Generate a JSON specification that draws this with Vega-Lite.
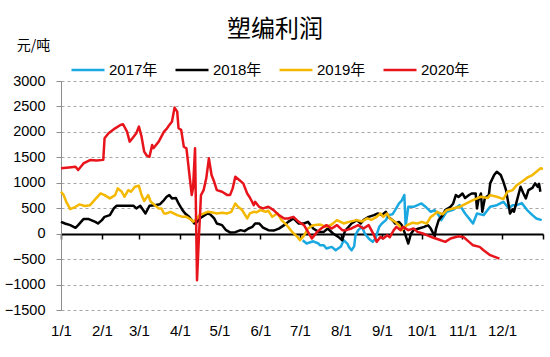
{
  "$schema": "https://vega.github.io/schema/vega-lite/v6.json",
  "width": 482,
  "height": 229,
  "autosize": {"type": "none"},
  "padding": {"left": 61, "top": 81, "right": 7, "bottom": 47},
  "background": "white",
  "title": {"text": "塑编利润", "fontSize": 24, "font": "Noto Sans CJK SC", "fontWeight": "normal", "color": "#000", "anchor": "middle", "dx": -27, "offset": -4},
  "data": {"values": [
    {"year":"2017年","day":183,"value":-128},{"year":"2017年","day":186,"value":-193},{"year":"2017年","day":191,"value":-150},{"year":"2017年","day":195,"value":-193},{"year":"2017年","day":196,"value":-226},{"year":"2017年","day":199,"value":-226},{"year":"2017年","day":201,"value":-292},{"year":"2017年","day":205,"value":-260},{"year":"2017年","day":208,"value":-325},{"year":"2017年","day":212,"value":-250},{"year":"2017年","day":214,"value":-128},{"year":"2017年","day":217,"value":-200},{"year":"2017年","day":218,"value":-260},{"year":"2017年","day":220,"value":-325},{"year":"2017年","day":222,"value":-250},{"year":"2017年","day":223,"value":-30},{"year":"2017年","day":225,"value":69},{"year":"2017年","day":228,"value":134},{"year":"2017年","day":230,"value":3},{"year":"2017年","day":233,"value":-95},{"year":"2017年","day":236,"value":-161},{"year":"2017年","day":238,"value":-100},{"year":"2017年","day":241,"value":134},{"year":"2017年","day":243,"value":200},{"year":"2017年","day":246,"value":266},{"year":"2017年","day":248,"value":364},{"year":"2017年","day":251,"value":380},{"year":"2017年","day":253,"value":463},{"year":"2017年","day":256,"value":594},{"year":"2017年","day":258,"value":650},{"year":"2017年","day":260,"value":760},{"year":"2017年","day":261,"value":150},{"year":"2017年","day":263,"value":528},{"year":"2017年","day":267,"value":528},{"year":"2017年","day":270,"value":560},{"year":"2017年","day":273,"value":594},{"year":"2017年","day":276,"value":530},{"year":"2017年","day":280,"value":430},{"year":"2017年","day":283,"value":460},{"year":"2017年","day":286,"value":364},{"year":"2017年","day":288,"value":266},{"year":"2017年","day":292,"value":430},{"year":"2017年","day":297,"value":470},{"year":"2017年","day":302,"value":561},{"year":"2017年","day":306,"value":397},{"year":"2017年","day":310,"value":266},{"year":"2017年","day":312,"value":200},{"year":"2017年","day":315,"value":397},{"year":"2017年","day":320,"value":364},{"year":"2017年","day":325,"value":528},{"year":"2017年","day":330,"value":560},{"year":"2017年","day":335,"value":626},{"year":"2017年","day":339,"value":500},{"year":"2017年","day":342,"value":560},{"year":"2017年","day":345,"value":560},{"year":"2017年","day":349,"value":600},{"year":"2017年","day":353,"value":463},{"year":"2017年","day":357,"value":364},{"year":"2017年","day":360,"value":299},{"year":"2017年","day":364,"value":266},

    {"year":"2018年","day":0,"value":232},{"year":"2018年","day":3,"value":200},{"year":"2018年","day":7,"value":167},{"year":"2018年","day":11,"value":115},{"year":"2018年","day":13,"value":167},{"year":"2018年","day":17,"value":286},{"year":"2018年","day":21,"value":286},{"year":"2018年","day":26,"value":232},{"year":"2018年","day":28,"value":200},{"year":"2018年","day":31,"value":266},{"year":"2018年","day":33,"value":331},{"year":"2018年","day":37,"value":364},{"year":"2018年","day":40,"value":496},{"year":"2018年","day":42,"value":548},{"year":"2018年","day":46,"value":548},{"year":"2018年","day":51,"value":548},{"year":"2018年","day":55,"value":548},{"year":"2018年","day":57,"value":496},{"year":"2018年","day":60,"value":548},{"year":"2018年","day":64,"value":397},{"year":"2018年","day":67,"value":548},{"year":"2018年","day":71,"value":560},{"year":"2018年","day":75,"value":580},{"year":"2018年","day":78,"value":660},{"year":"2018年","day":80,"value":725},{"year":"2018年","day":82,"value":758},{"year":"2018年","day":84,"value":693},{"year":"2018年","day":87,"value":700},{"year":"2018年","day":89,"value":594},{"year":"2018年","day":92,"value":463},{"year":"2018年","day":94,"value":397},{"year":"2018年","day":97,"value":331},{"year":"2018年","day":99,"value":266},{"year":"2018年","day":101,"value":200},{"year":"2018年","day":103,"value":230},{"year":"2018年","day":105,"value":299},{"year":"2018年","day":108,"value":350},{"year":"2018年","day":111,"value":397},{"year":"2018年","day":113,"value":380},{"year":"2018年","day":116,"value":299},{"year":"2018年","day":118,"value":200},{"year":"2018年","day":122,"value":167},{"year":"2018年","day":125,"value":69},{"year":"2018年","day":128,"value":24},{"year":"2018年","day":132,"value":30},{"year":"2018年","day":136,"value":69},{"year":"2018年","day":139,"value":50},{"year":"2018年","day":142,"value":102},{"year":"2018年","day":145,"value":134},{"year":"2018年","day":147,"value":200},{"year":"2018年","day":150,"value":200},{"year":"2018年","day":153,"value":120},{"year":"2018年","day":157,"value":69},{"year":"2018年","day":161,"value":60},{"year":"2018年","day":165,"value":100},{"year":"2018年","day":169,"value":167},{"year":"2018年","day":172,"value":232},{"year":"2018年","day":176,"value":299},{"year":"2018年","day":180,"value":200},{"year":"2018年","day":184,"value":200},{"year":"2018年","day":187,"value":232},{"year":"2018年","day":191,"value":102},{"year":"2018年","day":195,"value":35},{"year":"2018年","day":199,"value":35},{"year":"2018年","day":202,"value":102},{"year":"2018年","day":206,"value":3},{"year":"2018年","day":210,"value":-63},{"year":"2018年","day":213,"value":-128},{"year":"2018年","day":215,"value":50},{"year":"2018年","day":220,"value":200},{"year":"2018年","day":224,"value":266},{"year":"2018年","day":227,"value":200},{"year":"2018年","day":229,"value":266},{"year":"2018年","day":233,"value":331},{"year":"2018年","day":237,"value":364},{"year":"2018年","day":240,"value":397},{"year":"2018年","day":243,"value":364},{"year":"2018年","day":246,"value":430},{"year":"2018年","day":248,"value":330},{"year":"2018年","day":251,"value":266},{"year":"2018年","day":253,"value":200},{"year":"2018年","day":256,"value":230},{"year":"2018年","day":258,"value":167},{"year":"2018年","day":260,"value":35},{"year":"2018年","day":263,"value":-193},{"year":"2018年","day":265,"value":0},{"year":"2018年","day":267,"value":69},{"year":"2018年","day":271,"value":102},{"year":"2018年","day":275,"value":134},{"year":"2018年","day":278,"value":167},{"year":"2018年","day":280,"value":100},{"year":"2018年","day":283,"value":-50},{"year":"2018年","day":284,"value":100},{"year":"2018年","day":286,"value":266},{"year":"2018年","day":289,"value":364},{"year":"2018年","day":291,"value":463},{"year":"2018年","day":295,"value":530},{"year":"2018年","day":297,"value":594},{"year":"2018年","day":299,"value":758},{"year":"2018年","day":301,"value":720},{"year":"2018年","day":304,"value":790},{"year":"2018年","day":306,"value":700},{"year":"2018年","day":309,"value":760},{"year":"2018年","day":311,"value":790},{"year":"2018年","day":314,"value":790},{"year":"2018年","day":315,"value":496},{"year":"2018年","day":316,"value":650},{"year":"2018年","day":318,"value":790},{"year":"2018年","day":319,"value":430},{"year":"2018年","day":321,"value":700},{"year":"2018年","day":324,"value":758},{"year":"2018年","day":325,"value":988},{"year":"2018年","day":328,"value":1152},{"year":"2018年","day":330,"value":1217},{"year":"2018年","day":333,"value":1152},{"year":"2018年","day":335,"value":1020},{"year":"2018年","day":337,"value":856},{"year":"2018年","day":339,"value":561},{"year":"2018年","day":340,"value":397},{"year":"2018年","day":342,"value":480},{"year":"2018年","day":343,"value":430},{"year":"2018年","day":345,"value":626},{"year":"2018年","day":348,"value":921},{"year":"2018年","day":350,"value":800},{"year":"2018年","day":352,"value":693},{"year":"2018年","day":354,"value":856},{"year":"2018年","day":357,"value":900},{"year":"2018年","day":359,"value":988},{"year":"2018年","day":361,"value":920},{"year":"2018年","day":362,"value":980},{"year":"2018年","day":363,"value":823},

    {"year":"2019年","day":0,"value":823},{"year":"2019年","day":2,"value":758},{"year":"2019年","day":4,"value":626},{"year":"2019年","day":7,"value":482},{"year":"2019年","day":11,"value":528},{"year":"2019年","day":14,"value":575},{"year":"2019年","day":18,"value":545},{"year":"2019年","day":22,"value":560},{"year":"2019年","day":26,"value":680},{"year":"2019年","day":30,"value":790},{"year":"2019年","day":33,"value":758},{"year":"2019年","day":37,"value":693},{"year":"2019年","day":41,"value":758},{"year":"2019年","day":43,"value":890},{"year":"2019年","day":46,"value":823},{"year":"2019年","day":48,"value":725},{"year":"2019年","day":51,"value":856},{"year":"2019年","day":53,"value":823},{"year":"2019年","day":56,"value":921},{"year":"2019年","day":59,"value":940},{"year":"2019年","day":61,"value":758},{"year":"2019年","day":63,"value":640},{"year":"2019年","day":66,"value":758},{"year":"2019年","day":68,"value":626},{"year":"2019年","day":71,"value":561},{"year":"2019年","day":74,"value":496},{"year":"2019年","day":76,"value":496},{"year":"2019年","day":78,"value":397},{"year":"2019年","day":80,"value":397},{"year":"2019年","day":83,"value":430},{"year":"2019年","day":88,"value":364},{"year":"2019年","day":92,"value":331},{"year":"2019年","day":95,"value":331},{"year":"2019年","day":99,"value":266},{"year":"2019年","day":100,"value":232},{"year":"2019年","day":103,"value":299},{"year":"2019年","day":105,"value":364},{"year":"2019年","day":111,"value":430},{"year":"2019年","day":114,"value":420},{"year":"2019年","day":118,"value":397},{"year":"2019年","day":122,"value":410},{"year":"2019年","day":126,"value":397},{"year":"2019年","day":129,"value":430},{"year":"2019年","day":132,"value":594},{"year":"2019年","day":134,"value":528},{"year":"2019年","day":137,"value":470},{"year":"2019年","day":141,"value":299},{"year":"2019年","day":143,"value":397},{"year":"2019年","day":146,"value":430},{"year":"2019年","day":148,"value":420},{"year":"2019年","day":151,"value":463},{"year":"2019年","day":155,"value":430},{"year":"2019年","day":157,"value":450},{"year":"2019年","day":160,"value":331},{"year":"2019年","day":164,"value":400},{"year":"2019年","day":167,"value":266},{"year":"2019年","day":171,"value":167},{"year":"2019年","day":175,"value":35},{"year":"2019年","day":179,"value":-63},{"year":"2019年","day":181,"value":-128},{"year":"2019年","day":184,"value":-40},{"year":"2019年","day":187,"value":102},{"year":"2019年","day":191,"value":167},{"year":"2019年","day":196,"value":180},{"year":"2019年","day":201,"value":134},{"year":"2019年","day":205,"value":180},{"year":"2019年","day":209,"value":266},{"year":"2019年","day":214,"value":200},{"year":"2019年","day":218,"value":232},{"year":"2019年","day":224,"value":266},{"year":"2019年","day":228,"value":240},{"year":"2019年","day":232,"value":299},{"year":"2019年","day":235,"value":270},{"year":"2019年","day":239,"value":331},{"year":"2019年","day":242,"value":397},{"year":"2019年","day":244,"value":331},{"year":"2019年","day":247,"value":397},{"year":"2019年","day":249,"value":299},{"year":"2019年","day":253,"value":232},{"year":"2019年","day":256,"value":167},{"year":"2019年","day":258,"value":69},{"year":"2019年","day":262,"value":167},{"year":"2019年","day":266,"value":213},{"year":"2019年","day":270,"value":200},{"year":"2019年","day":273,"value":232},{"year":"2019年","day":277,"value":200},{"year":"2019年","day":280,"value":331},{"year":"2019年","day":282,"value":364},{"year":"2019年","day":285,"value":430},{"year":"2019年","day":289,"value":380},{"year":"2019年","day":292,"value":463},{"year":"2019年","day":297,"value":496},{"year":"2019年","day":302,"value":528},{"year":"2019年","day":307,"value":594},{"year":"2019年","day":312,"value":660},{"year":"2019年","day":318,"value":725},{"year":"2019年","day":323,"value":700},{"year":"2019年","day":325,"value":758},{"year":"2019年","day":330,"value":725},{"year":"2019年","day":335,"value":680},{"year":"2019年","day":338,"value":823},{"year":"2019年","day":342,"value":856},{"year":"2019年","day":345,"value":950},{"year":"2019年","day":349,"value":1020},{"year":"2019年","day":353,"value":1100},{"year":"2019年","day":357,"value":1152},{"year":"2019年","day":360,"value":1217},{"year":"2019年","day":363,"value":1284},{"year":"2019年","day":365,"value":1270},

    {"year":"2020年","day":0,"value":1284},{"year":"2020年","day":6,"value":1300},{"year":"2020年","day":11,"value":1315},{"year":"2020年","day":13,"value":1250},{"year":"2020年","day":17,"value":1380},{"year":"2020年","day":22,"value":1447},{"year":"2020年","day":27,"value":1440},{"year":"2020年","day":32,"value":1450},{"year":"2020年","day":33,"value":1875},{"year":"2020年","day":36,"value":1972},{"year":"2020年","day":41,"value":2070},{"year":"2020年","day":45,"value":2136},{"year":"2020年","day":47,"value":2150},{"year":"2020年","day":50,"value":2005},{"year":"2020年","day":52,"value":1808},{"year":"2020年","day":55,"value":1906},{"year":"2020年","day":57,"value":1972},{"year":"2020年","day":59,"value":2103},{"year":"2020年","day":61,"value":1906},{"year":"2020年","day":63,"value":1611},{"year":"2020年","day":65,"value":1532},{"year":"2020年","day":67,"value":1510},{"year":"2020年","day":69,"value":1742},{"year":"2020年","day":70,"value":1680},{"year":"2020年","day":74,"value":1808},{"year":"2020年","day":78,"value":2005},{"year":"2020年","day":80,"value":2060},{"year":"2020年","day":82,"value":2136},{"year":"2020年","day":84,"value":2200},{"year":"2020年","day":86,"value":2477},{"year":"2020年","day":88,"value":2398},{"year":"2020年","day":89,"value":2071},{"year":"2020年","day":91,"value":2040},{"year":"2020年","day":93,"value":1709},{"year":"2020年","day":95,"value":1677},{"year":"2020年","day":97,"value":1217},{"year":"2020年","day":99,"value":758},{"year":"2020年","day":100,"value":890},{"year":"2020年","day":101.5,"value":1677},{"year":"2020年","day":103,"value":-915},{"year":"2020年","day":104.5,"value":-30},{"year":"2020年","day":106,"value":758},{"year":"2020年","day":108,"value":856},{"year":"2020年","day":110,"value":1087},{"year":"2020年","day":112,"value":1480},{"year":"2020年","day":114,"value":1152},{"year":"2020年","day":116,"value":1020},{"year":"2020年","day":118,"value":856},{"year":"2020年","day":122,"value":823},{"year":"2020年","day":126,"value":758},{"year":"2020年","day":128,"value":758},{"year":"2020年","day":130,"value":890},{"year":"2020年","day":132,"value":1118},{"year":"2020年","day":135,"value":1053},{"year":"2020年","day":138,"value":988},{"year":"2020年","day":141,"value":790},{"year":"2020年","day":143,"value":710},{"year":"2020年","day":146,"value":561},{"year":"2020年","day":147,"value":626},{"year":"2020年","day":150,"value":528},{"year":"2020年","day":153,"value":496},{"year":"2020年","day":157,"value":528},{"year":"2020年","day":161,"value":463},{"year":"2020年","day":165,"value":364},{"year":"2020年","day":169,"value":299},{"year":"2020年","day":172,"value":299},{"year":"2020年","day":176,"value":331},{"year":"2020年","day":180,"value":232},{"year":"2020年","day":184,"value":167},{"year":"2020年","day":187,"value":35},{"year":"2020年","day":190,"value":-95},{"year":"2020年","day":194,"value":35},{"year":"2020年","day":197,"value":102},{"year":"2020年","day":201,"value":167},{"year":"2020年","day":205,"value":102},{"year":"2020年","day":209,"value":167},{"year":"2020年","day":213,"value":69},{"year":"2020年","day":216,"value":69},{"year":"2020年","day":220,"value":102},{"year":"2020年","day":225,"value":167},{"year":"2020年","day":229,"value":102},{"year":"2020年","day":233,"value":167},{"year":"2020年","day":237,"value":-30},{"year":"2020年","day":239,"value":-161},{"year":"2020年","day":242,"value":-63},{"year":"2020年","day":244,"value":-95},{"year":"2020年","day":247,"value":-30},{"year":"2020年","day":249,"value":-70},{"year":"2020年","day":252,"value":69},{"year":"2020年","day":254,"value":134},{"year":"2020年","day":257,"value":69},{"year":"2020年","day":259,"value":134},{"year":"2020年","day":263,"value":69},{"year":"2020年","day":267,"value":102},{"year":"2020年","day":270,"value":35},{"year":"2020年","day":274,"value":3},{"year":"2020年","day":277,"value":-30},{"year":"2020年","day":281,"value":-70},{"year":"2020年","day":286,"value":-115},{"year":"2020年","day":291,"value":-161},{"year":"2020年","day":295,"value":-95},{"year":"2020年","day":301,"value":-50},{"year":"2020年","day":305,"value":-70},{"year":"2020年","day":309,"value":-161},{"year":"2020年","day":312,"value":-226},{"year":"2020年","day":317,"value":-260},{"year":"2020年","day":320,"value":-325},{"year":"2020年","day":325,"value":-423},{"year":"2020年","day":330,"value":-470},{"year":"2020年","day":332,"value":-490}
  ]},
  "mark": {"type": "line", "strokeJoin": "round"},
  "encoding": {
    "x": {
      "field": "day", "type": "quantitative",
      "scale": {"domain": [0, 365], "nice": false, "zero": false},
      "axis": {
        "orient": "bottom", "offset": -76, "title": null, "grid": false,
        "values": [0, 31, 59, 90, 120, 151, 181, 212, 243, 273, 304, 334, 365],
        "labelExpr": "datum.value == 365 ? '' : ['1/1','2/1','3/1','4/1','5/1','6/1','7/1','8/1','9/1','10/1','11/1','12/1'][indexof([0,31,59,90,120,151,181,212,243,273,304,334], datum.value)]",
        "domainColor": "#000", "domainWidth": 2, "tickColor": "#000", "tickWidth": 1.5, "tickSize": 5,
        "labelPadding": 84, "labelFontSize": 15, "labelFont": "Liberation Sans", "labelColor": "#000",
        "labelFlush": false, "labelOverlap": false
      }
    },
    "y": {
      "field": "value", "type": "quantitative",
      "scale": {"domain": [-1500, 3000], "nice": false},
      "axis": {
        "values": [-1500, -1000, -500, 0, 500, 1000, 1500, 2000, 2500, 3000],
        "format": "d",
        "title": "元/吨", "titleAngle": 0, "titleX": -28, "titleY": -36, "titleAlign": "center", "titleBaseline": "middle",
        "titleFontSize": 14, "titleFontWeight": "normal", "titleFont": "Noto Sans CJK SC", "titleColor": "#000",
        "domainColor": "#8c8c8c", "tickColor": "#8c8c8c", "tickSize": 5,
        "gridColor": "#a6a6a6", "gridDash": [3, 3], "gridWidth": 1,
        "labelFontSize": 14.5, "labelFont": "Liberation Sans", "labelColor": "#000", "labelPadding": 11
      }
    },
    "color": {
      "field": "year", "type": "nominal",
      "scale": {"domain": ["2017年", "2018年", "2019年", "2020年"], "range": ["#1AA8E0", "#000000", "#F5B800", "#E8141C"]},
      "legend": {
        "orient": "none", "legendX": 9, "legendY": -29, "direction": "horizontal", "title": null,
        "symbolType": "stroke", "symbolSize": 1089, "symbolStrokeWidth": 3,
        "labelFontSize": 15, "labelFont": "Liberation Sans, Noto Sans CJK SC", "labelColor": "#000",
        "labelOffset": 3, "columnPadding": 12, "padding": 0
      }
    },
    "strokeWidth": {
      "field": "year", "type": "nominal",
      "scale": {"domain": ["2017年", "2018年", "2019年", "2020年"], "range": [2.5, 2.5, 3, 3.3]},
      "legend": null
    }
  },
  "config": {"view": {"stroke": null}}
}
